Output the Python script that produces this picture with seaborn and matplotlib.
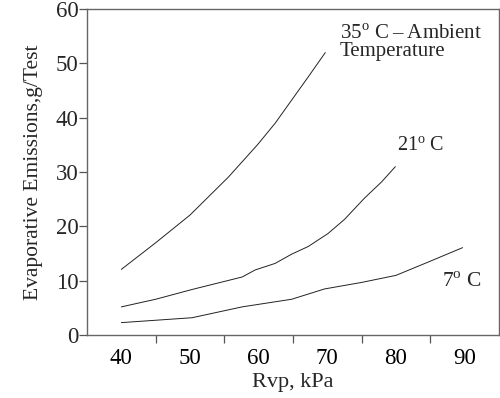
import pandas as pd
import numpy as np
import seaborn as sns
import matplotlib.pyplot as plt
import matplotlib.ticker as ticker

# Curves (Rvp kPa vs g/test)
rvp_35 = [40, 45, 50, 55.6, 59.8, 62.4, 64.6, 67.2, 69.7]
evap_35 = [12.1, 17.0, 22.1, 29.1, 35.0, 39.0, 42.9, 47.5, 52.0]

rvp_21 = [40, 45, 50.3, 57.6, 59.5, 62.4, 64.8, 67.2, 70.1, 72.5, 75.4, 77.9, 79.9]
evap_21 = [5.2, 6.6, 8.4, 10.7, 12.0, 13.2, 14.9, 16.3, 18.7, 21.3, 25.2, 28.2, 31.0]

rvp_7 = [40, 50.3, 57.6, 64.8, 69.6, 75, 80, 84.6, 89.7]
evap_7 = [2.3, 3.2, 5.2, 6.6, 8.5, 9.7, 11.0, 13.4, 16.1]

x_labels = [40, 50, 60, 70, 80, 90]
y_ticks = [0, 10, 20, 30, 40, 50, 60]

df = pd.concat([
    pd.DataFrame({'rvp': rvp_35, 'evap': evap_35, 'temp': '35'}),
    pd.DataFrame({'rvp': rvp_21, 'evap': evap_21, 'temp': '21'}),
    pd.DataFrame({'rvp': rvp_7, 'evap': evap_7, 'temp': '7'}),
])

sns.set_style("ticks")
plt.rcParams['font.family'] = ['Liberation Serif', 'DejaVu Serif']
plt.rcParams['mathtext.fontset'] = 'custom'
plt.rcParams['mathtext.rm'] = 'Liberation Serif'

fig = plt.figure(figsize=(5, 3.98), dpi=100)
ax = fig.add_axes([0.174, 0.158, 0.824, 0.819])

sns.lineplot(data=df, x='rvp', y='evap', hue='temp', units='temp', estimator=None,
             palette=['#222222'] * 3, linewidth=0.7, legend=False, ax=ax)

ax.set_xlim(35, 95)
ax.set_ylim(0, 60)
ax.set_xticks(x_labels)
ax.xaxis.set_minor_locator(ticker.FixedLocator([45, 55, 65, 75, 85]))
ax.set_yticks(y_ticks)
ax.tick_params(axis='x', which='major', length=0, labelsize=16.5, pad=9, colors='black')
ax.tick_params(axis='x', which='minor', length=6, width=0.9, color='#555555')
ax.tick_params(axis='y', length=6, width=0.9, color='#555555', labelsize=16.5, pad=0)

for s in ax.spines.values():
    s.set_color('#666666')
    s.set_linewidth(1.0)

ax.set_xlabel('Rvp, kPa', fontsize=16, labelpad=3)
ax.set_ylabel('Evaporative Emissions,g/Test', fontsize=15.5, labelpad=9)

ax.text(71.8, 50.4, '35$^\\mathrm{o}$ C\u2009–\u2009Ambient\nTemperature', fontsize=15,
        linespacing=0.85, va='bottom', ha='left')
ax.text(80.2, 33.0, '21$^\\mathrm{o}$ C', fontsize=14.5, va='bottom', ha='left')
ax.text(86.7, 8.0, '7$^\\mathrm{o}$ C', fontsize=15.5, va='bottom', ha='left')

fig.savefig('out.png', dpi=100)
